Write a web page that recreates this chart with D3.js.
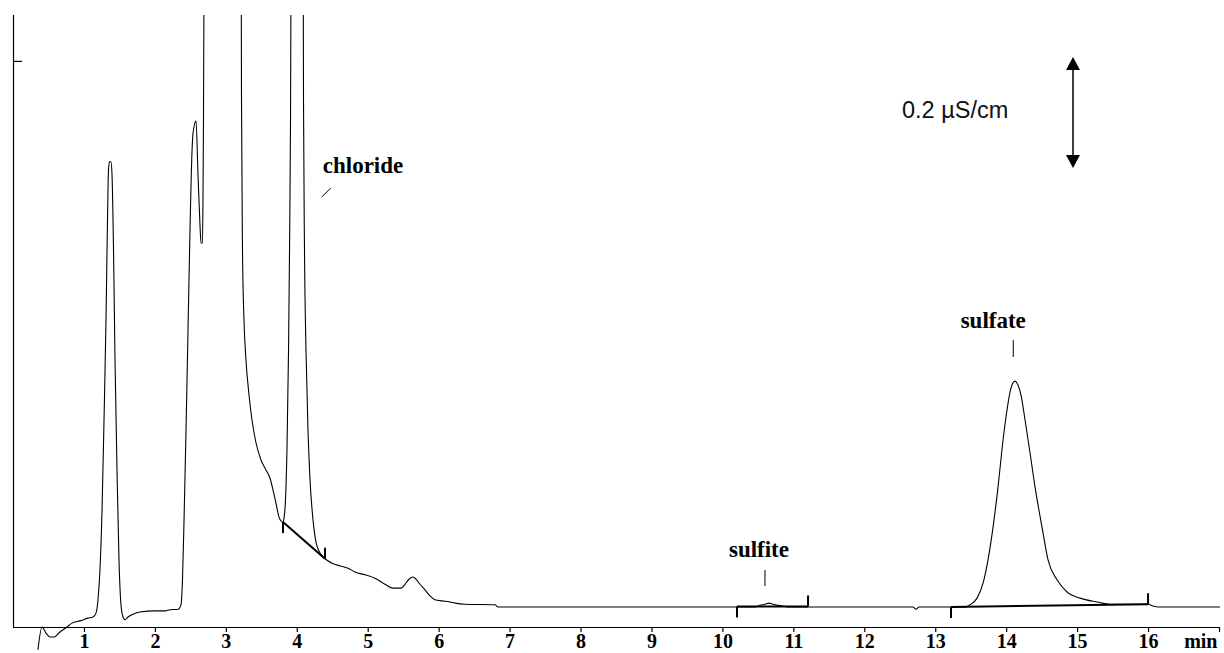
<!DOCTYPE html>
<html>
<head>
<meta charset="utf-8">
<script src="https://cdn.jsdelivr.net/npm/d3@7"></script>
<style>
  body { margin: 0; background: #fff; }
  svg { display: block; }
</style>
</head>
<body>
<div id="chart"></div>
<script>
// retention time (min) and conductivity (µS/cm)
const traceTime = [
  0.352, 0.409, 0.465, 0.522, 0.578, 0.663, 0.761, 0.832, 0.944, 1.057,
  1.128, 1.170, 1.198, 1.226, 1.255, 1.283, 1.311, 1.332, 1.346, 1.360,
  1.381, 1.396, 1.417, 1.438, 1.466, 1.494, 1.522, 1.551, 1.579, 1.621,
  1.692, 1.790, 2.002, 2.143, 2.213, 2.326, 2.368, 2.389, 2.411, 2.439,
  2.467, 2.495, 2.524, 2.538, 2.580, 2.608, 2.636, 2.650, 2.671, 2.678,
  2.685, 2.699, 2.946, 3.214, 3.221, 3.235, 3.256, 3.284, 3.327, 3.369,
  3.425, 3.496, 3.566, 3.623, 3.665, 3.707, 3.750, 3.778, 3.806, 3.820,
  3.841, 3.862, 3.884, 3.898, 3.912, 3.923, 4.003, 4.088, 4.095, 4.109,
  4.130, 4.158, 4.187, 4.229, 4.271, 4.313, 4.356, 4.398, 4.497, 4.610,
  4.722, 4.821, 4.962, 5.103, 5.244, 5.357, 5.469, 5.526, 5.582, 5.638,
  5.681, 5.737, 5.808, 5.878, 5.949, 6.047, 6.160, 6.231, 6.372, 6.794,
  6.837, 8.697, 10.459, 10.530, 10.600, 10.657, 10.713, 10.784, 10.882, 10.953,
  12.687, 12.729, 12.771, 13.420, 13.490, 13.589, 13.674, 13.744, 13.815, 13.885,
  13.956, 14.012, 14.054, 14.097, 14.125, 14.167, 14.209, 14.266, 14.336, 14.407,
  14.505, 14.590, 14.717, 14.858, 15.041, 15.281, 15.464, 16.000, 16.070, 16.141,
  17.014
];
const traceSignal = [
  -0.041, 0.000, -0.011, -0.018, -0.018, -0.009, 0.000, 0.007, 0.011, 0.016,
  0.018, 0.025, 0.049, 0.103, 0.211, 0.373, 0.553, 0.733, 0.823, 0.838,
  0.838, 0.814, 0.679, 0.481, 0.283, 0.121, 0.040, 0.018, 0.013, 0.018,
  0.023, 0.027, 0.029, 0.029, 0.031, 0.032, 0.040, 0.085, 0.193, 0.355,
  0.535, 0.715, 0.859, 0.890, 0.912, 0.814, 0.724, 0.692, 0.692, 0.769,
  0.914, 1.310, 1.670, 1.310, 0.950, 0.679, 0.553, 0.481, 0.418, 0.373,
  0.332, 0.301, 0.283, 0.268, 0.247, 0.223, 0.198, 0.191, 0.189, 0.196,
  0.229, 0.319, 0.499, 0.679, 0.914, 1.310, 2.000, 1.310, 0.950, 0.679,
  0.499, 0.355, 0.265, 0.193, 0.153, 0.137, 0.128, 0.123, 0.115, 0.110,
  0.106, 0.099, 0.094, 0.088, 0.077, 0.070, 0.070, 0.077, 0.086, 0.090,
  0.086, 0.077, 0.067, 0.056, 0.049, 0.047, 0.045, 0.043, 0.041, 0.040,
  0.036, 0.036, 0.036, 0.039, 0.041, 0.043, 0.041, 0.039, 0.037, 0.036,
  0.036, 0.032, 0.036, 0.036, 0.040, 0.052, 0.079, 0.121, 0.180, 0.252,
  0.337, 0.391, 0.423, 0.440, 0.443, 0.436, 0.418, 0.373, 0.314, 0.252,
  0.180, 0.121, 0.085, 0.063, 0.052, 0.045, 0.041, 0.041, 0.038, 0.036,
  0.036
];

// integration baselines: start time, start signal, end time, end signal
const baseStart = [[3.806, 0.189], [10.206, 0.037], [13.222, 0.036]];
const baseEnd   = [[4.398, 0.123], [11.207, 0.037], [16.000, 0.041]];

const peakNames = ["chloride", "sulfite", "sulfate"];
const peakTimes = [4.0, 10.6, 14.1];

const xTickValues = [1, 2, 3, 4, 5, 6, 7, 8, 9, 10, 11, 12, 13, 14, 15, 16, 17];
const xTickLabels = ["1", "2", "3", "4", "5", "6", "7", "8", "9", "10", "11", "12", "13", "14", "15", "16", "min"];
const yTickValues = [1.02];
const scaleBarSpan = 0.2;   // µS/cm
const scaleBarLabel = "0.2 µS/cm";

const width = 1224, height = 653;
const plotLeft = 13, plotRight = 1219, plotTop = 15, plotBottom = 627;

const svg = d3.select("#chart").append("svg")
    .attr("width", width)
    .attr("height", height);

const x = d3.scaleLinear().domain([0, 17]).range([plotLeft, plotRight]);
const y = d3.scaleLinear().domain([0, 1.1027]).range([plotBottom, plotTop]);

svg.append("clipPath")
    .attr("id", "clip")
    .append("rect")
    .attr("x", 0)
    .attr("y", plotTop)
    .attr("width", width)
    .attr("height", height - plotTop);

const serif = "'Liberation Serif', 'Times New Roman', serif";

// x axis: ticks hang below the line
const xAxis = d3.axisBottom(x)
    .tickValues(xTickValues)
    .tickSize(5)
    .tickPadding(2)
    .tickFormat((d, i) => xTickLabels[i]);

const gx = svg.append("g")
    .attr("transform", `translate(0,${plotBottom})`)
    .call(xAxis)
    .attr("font-size", null)
    .attr("font-family", null);
gx.select(".domain")
    .attr("d", `M${plotLeft},0.5H${plotRight}`)
    .attr("stroke", "#000")
    .attr("stroke-width", 1.2);
gx.selectAll(".tick line").attr("stroke", "#000").attr("stroke-width", 1.2);
gx.selectAll(".tick text")
    .style("font-family", serif)
    .style("font-weight", "bold")
    .style("font-size", "20px")
    .attr("fill", "#000");
// "min" sits left of its tick
gx.selectAll(".tick text")
    .filter((d, i) => i === xTickValues.length - 1)
    .attr("text-anchor", "end")
    .attr("x", -2);

// y axis: single inward tick
const yAxis = d3.axisRight(y)
    .tickValues(yTickValues)
    .tickSize(9)
    .tickFormat("");
const gy = svg.append("g")
    .attr("transform", `translate(${plotLeft},0)`)
    .call(yAxis);
gy.select(".domain")
    .attr("d", `M0.5,${plotTop}V${plotBottom}`)
    .attr("stroke", "#000")
    .attr("stroke-width", 1.2);
gy.selectAll(".tick line").attr("stroke", "#000").attr("stroke-width", 1.2);

// chromatogram trace
const trace = traceTime.map((t, i) => [t, traceSignal[i]]);
const line = d3.line()
    .x(d => x(d[0]))
    .y(d => y(d[1]))
    .curve(d3.curveMonotoneX);

svg.append("path")
    .datum(trace)
    .attr("clip-path", "url(#clip)")
    .attr("d", line)
    .attr("fill", "none")
    .attr("stroke", "#000")
    .attr("stroke-width", 1.1);

// integration baselines with start/end markers
const tickLen = 11;
baseStart.forEach((s, i) => {
    const e = baseEnd[i];
    svg.append("line")
        .attr("x1", x(s[0])).attr("y1", y(s[1]))
        .attr("x2", x(e[0])).attr("y2", y(e[1]))
        .attr("stroke", "#000")
        .attr("stroke-width", 2);
    svg.append("line")
        .attr("x1", x(s[0])).attr("y1", y(s[1]))
        .attr("x2", x(s[0])).attr("y2", y(s[1]) + tickLen)
        .attr("stroke", "#000")
        .attr("stroke-width", 2);
    svg.append("line")
        .attr("x1", x(e[0])).attr("y1", y(e[1]))
        .attr("x2", x(e[0])).attr("y2", y(e[1]) - tickLen)
        .attr("stroke", "#000")
        .attr("stroke-width", 2);
});

// peak labels
const labelStyle = sel => sel
    .style("font-family", serif)
    .style("font-weight", "bold")
    .style("font-size", "23px")
    .attr("fill", "#000");

// chloride: text to the right, slanted pointer
svg.append("text")
    .attr("x", x(peakTimes[0]) + 26)
    .attr("y", 173)
    .attr("text-anchor", "start")
    .call(labelStyle)
    .text(peakNames[0]);
svg.append("line")
    .attr("x1", x(peakTimes[0]) + 25).attr("y1", 197)
    .attr("x2", x(peakTimes[0]) + 34).attr("y2", 188)
    .attr("stroke", "#000")
    .attr("stroke-width", 1);

// sulfite
svg.append("text")
    .attr("x", x(peakTimes[1]) - 6)
    .attr("y", 557)
    .attr("text-anchor", "middle")
    .call(labelStyle)
    .text(peakNames[1]);
svg.append("line")
    .attr("x1", x(peakTimes[1])).attr("y1", 570)
    .attr("x2", x(peakTimes[1])).attr("y2", 586)
    .attr("stroke", "#000")
    .attr("stroke-width", 1);

// sulfate
svg.append("text")
    .attr("x", x(peakTimes[2]) - 20)
    .attr("y", 328)
    .attr("text-anchor", "middle")
    .call(labelStyle)
    .text(peakNames[2]);
svg.append("line")
    .attr("x1", x(peakTimes[2])).attr("y1", 340)
    .attr("x2", x(peakTimes[2])).attr("y2", 357)
    .attr("stroke", "#000")
    .attr("stroke-width", 1);

// scale bar
const barX = 1073, barTop = 57;
const barBottom = barTop + (y(0) - y(scaleBarSpan));
const head = 13, half = 7;
svg.append("line")
    .attr("x1", barX).attr("y1", barTop + head - 1)
    .attr("x2", barX).attr("y2", barBottom - head + 1)
    .attr("stroke", "#000")
    .attr("stroke-width", 1.5);
svg.append("path")
    .attr("d", `M${barX},${barTop}L${barX - half},${barTop + head}L${barX + half},${barTop + head}Z`)
    .attr("fill", "#000");
svg.append("path")
    .attr("d", `M${barX},${barBottom}L${barX - half},${barBottom - head}L${barX + half},${barBottom - head}Z`)
    .attr("fill", "#000");
svg.append("text")
    .attr("x", 902)
    .attr("y", 118)
    .style("font-family", "'Liberation Sans', Arial, sans-serif")
    .style("font-size", "23.5px")
    .attr("fill", "#111")
    .text(scaleBarLabel);
</script>
</body>
</html>
